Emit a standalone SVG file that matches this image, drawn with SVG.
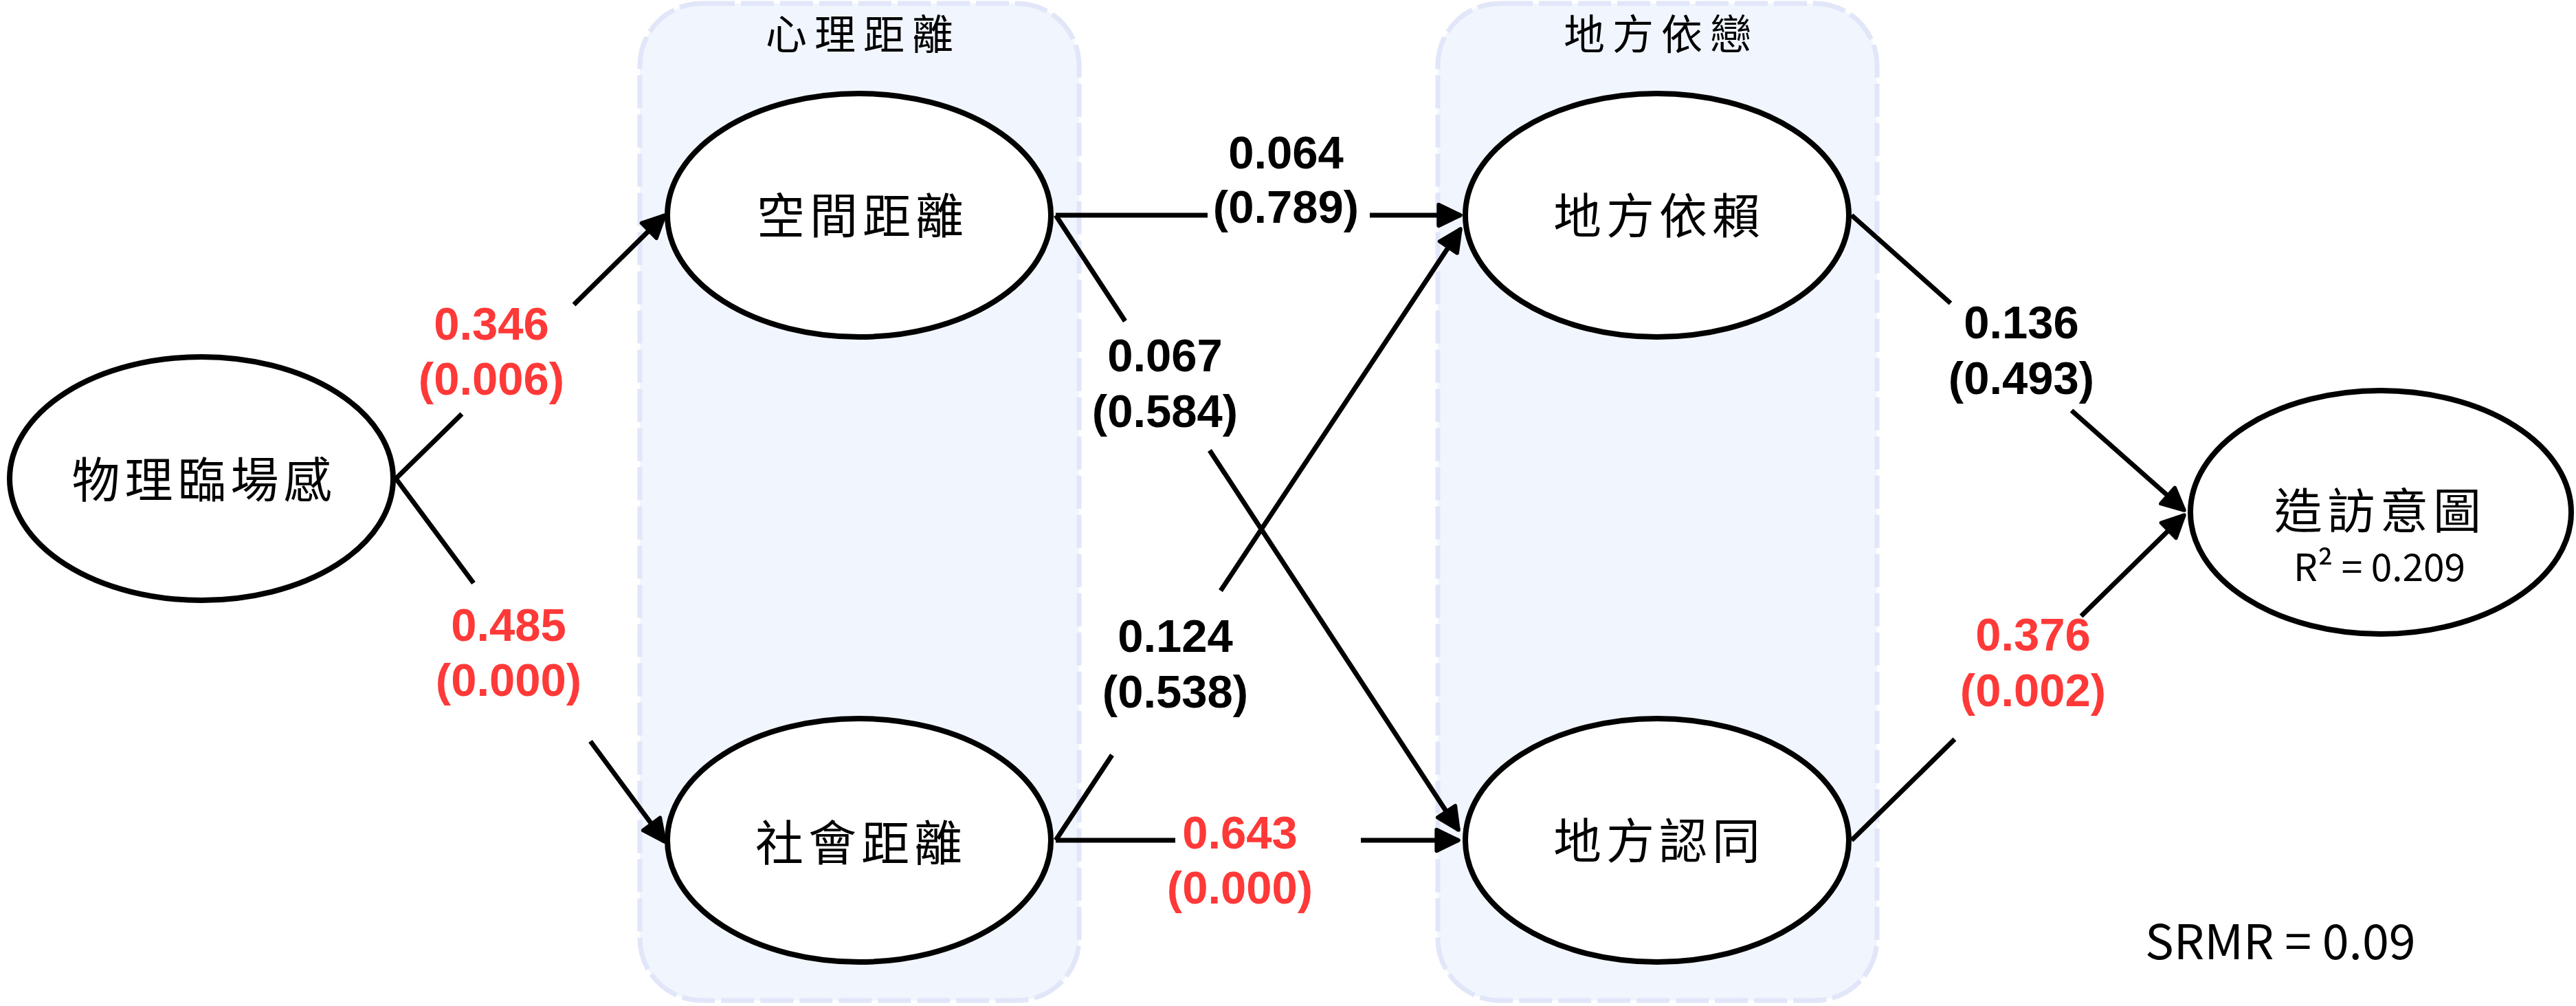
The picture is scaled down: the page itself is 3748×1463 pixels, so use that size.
<svg xmlns="http://www.w3.org/2000/svg" width="3748" height="1463" viewBox="0 0 3748 1463">
<defs>
<style>
.grp{fill:#F0F5FE;stroke:#E1E6F8;stroke-width:7;stroke-dasharray:48 9}
.gt{font-family:"Noto Sans CJK TC","Noto Sans CJK SC",sans-serif;font-size:60px;font-weight:400;letter-spacing:11px;text-anchor:middle;dominant-baseline:central;fill:#000}
.nd{fill:#fff;stroke:#000;stroke-width:8}
.nt{font-family:"Noto Sans CJK TC","Noto Sans CJK SC",sans-serif;font-size:70px;font-weight:400;letter-spacing:7px;text-anchor:middle;dominant-baseline:central;fill:#000}
.sub{font-family:"Noto Sans CJK TC","Noto Sans CJK SC",sans-serif;font-size:55px;font-weight:400;text-anchor:middle;fill:#000}
.cn{fill:none;stroke:#000;stroke-width:7;marker-end:url(#arr)}
.lb{font-family:"Liberation Sans",Arial,sans-serif;font-size:67px;font-weight:bold;text-anchor:middle;fill:#000}
.red{fill:#FF3838}
.srmr{font-family:"Noto Sans CJK TC","Noto Sans CJK SC",sans-serif;font-size:70px;fill:#000}
</style>
<marker id="arr" markerUnits="userSpaceOnUse" markerWidth="44" markerHeight="44" viewBox="0 0 40 36" refX="33" refY="18" orient="auto">
<path d="M4,4 L33,18 L4,32 Z" fill="#000" stroke="#000" stroke-width="5" stroke-linejoin="round"/>
</marker>
</defs>
<rect width="3748" height="1463" fill="#fff"/>

<g id="group-psych-distance">
<rect class="grp" x="931" y="5" width="639" height="1450" rx="90" ry="90"/>
<text class="gt" x="1256" y="45">心理距離</text>
</g>
<g id="group-place-attachment">
<rect class="grp" x="2092" y="5" width="639" height="1450" rx="90" ry="90"/>
<text class="gt" x="2417" y="45">地方依戀</text>
</g>

<g id="connectors">
<path class="cn" d="M576,696 L672,602 M835,443 L967,313"/>
<path class="cn" d="M576,696 L689,848 M859,1078 L967,1224"/>
<path class="cn" d="M1536,313 L1757,313 M1993,313 L2125,313"/>
<path class="cn" d="M1536,313 L1637,467 M1760,655 L2122,1207"/>
<path class="cn" d="M1536,1222 L1618,1098 M1776,859 L2125,333"/>
<path class="cn" d="M1536,1222 L1710,1222 M1980,1222 L2122,1222"/>
<path class="cn" d="M2694,313 L2838,441 M3014,597 L3178,742"/>
<path class="cn" d="M2694,1222 L2844,1075 M3028,896 L3178,749"/>

<text class="lb red" x="715" y="494">0.346</text>
<text class="lb red" x="715" y="574">(0.006)</text>
<text class="lb red" x="740" y="932">0.485</text>
<text class="lb red" x="740" y="1012">(0.000)</text>
<text class="lb" x="1871" y="245">0.064</text>
<text class="lb" x="1871" y="324">(0.789)</text>
<text class="lb" x="1695" y="540">0.067</text>
<text class="lb" x="1695" y="621">(0.584)</text>
<text class="lb" x="1710" y="948">0.124</text>
<text class="lb" x="1710" y="1029">(0.538)</text>
<text class="lb red" x="1804" y="1234">0.643</text>
<text class="lb red" x="1804" y="1314">(0.000)</text>
<text class="lb" x="2941" y="492">0.136</text>
<text class="lb" x="2941" y="573">(0.493)</text>
<text class="lb red" x="2958" y="946">0.376</text>
<text class="lb red" x="2958" y="1027">(0.002)</text>
</g>

<g id="node-physical-presence">
<ellipse class="nd" cx="293" cy="696" rx="279" ry="177"/>
<text class="nt" x="297" y="693">物理臨場感</text>
</g>
<g id="node-spatial-distance">
<ellipse class="nd" cx="1250" cy="313" rx="279" ry="177"/>
<text class="nt" x="1255" y="309">空間距離</text>
</g>
<g id="node-social-distance">
<ellipse class="nd" cx="1250" cy="1222" rx="279" ry="177"/>
<text class="nt" x="1253" y="1221">社會距離</text>
</g>
<g id="node-place-dependence">
<ellipse class="nd" cx="2411" cy="313" rx="279" ry="177"/>
<text class="nt" x="2414" y="309">地方依賴</text>
</g>
<g id="node-place-identity">
<ellipse class="nd" cx="2411" cy="1222" rx="279" ry="177"/>
<text class="nt" x="2414" y="1218">地方認同</text>
</g>
<g id="node-visit-intention">
<ellipse class="nd" cx="3464" cy="745" rx="277" ry="177"/>
<text class="nt" x="3463" y="738">造訪意圖</text>
<text class="sub" x="3462" y="845">R² = 0.209</text>
</g>

<text class="srmr" x="3121" y="1395">SRMR = 0.09</text>
</svg>
